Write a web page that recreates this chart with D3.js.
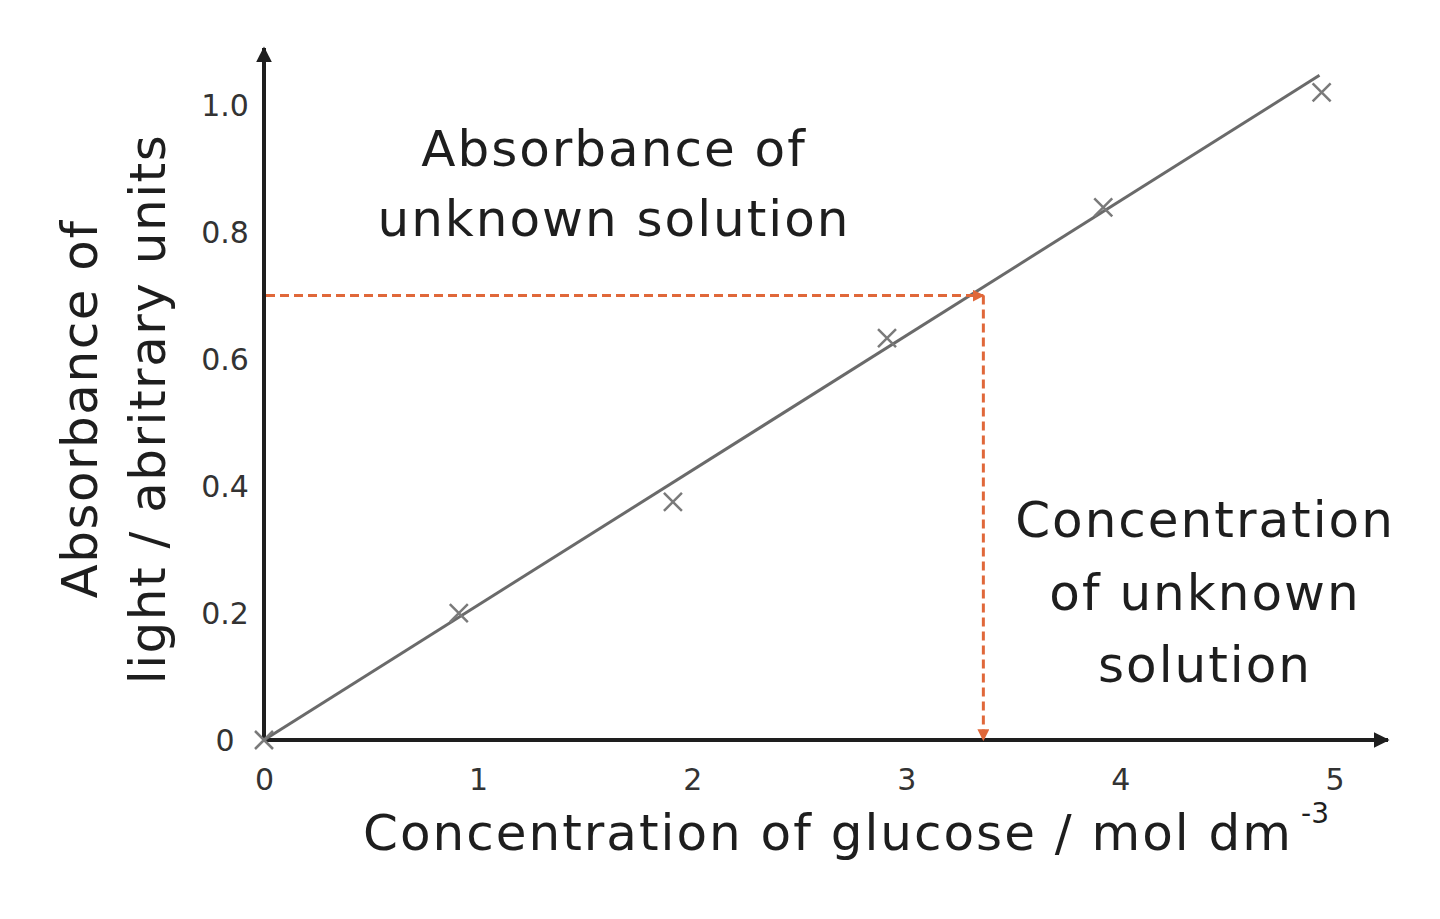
<!DOCTYPE html>
<html>
<head>
<meta charset="utf-8">
<script src="https://cdn.jsdelivr.net/npm/d3@7"></script>
<style>
  body { margin: 0; background: #fff; }
  text { font-family: "DejaVu Sans", sans-serif; fill: #1e1e1e; }
</style>
</head>
<body>
<svg id="chart"></svg>
<script>
// calibration readings (concentration, absorbance)
const concentration = [0, 0.91, 1.91, 2.91, 3.92, 4.94];
const absorbance = [0, 0.2, 0.375, 0.633, 0.839, 1.02];
// line of best fit, drawn by hand in the original
const fitLine = [[0, 0], [4.93, 1.047]];
// reading for the unknown solution
const unknown = { conc: 3.36, abs: 0.70 };

const xTicks = [0, 1, 2, 3, 4, 5];
const yTicks = [0, 0.2, 0.4, 0.6, 0.8, 1.0];
const yTickLabels = ["0", "0.2", "0.4", "0.6", "0.8", "1.0"];

const width = 1440, height = 919;
const svg = d3.select("#chart").attr("width", width).attr("height", height);

const x = d3.scaleLinear().domain([0, 5.25]).range([264, 1388]);
const y = d3.scaleLinear().domain([0, 1.09]).range([740, 48]);

const defs = svg.append("defs");
const arrow = (id, color, size) => defs.append("marker")
  .attr("id", id)
  .attr("viewBox", "0 0 10 10")
  .attr("refX", 9).attr("refY", 5)
  .attr("markerWidth", size).attr("markerHeight", size)
  .attr("markerUnits", "userSpaceOnUse")
  .attr("orient", "auto")
  .append("path").attr("d", "M0,0 L10,5 L0,10 Z").attr("fill", color);
arrow("axisArrow", "#1e1e1e", 16);
arrow("orangeArrow", "#e0683a", 12);

// tick labels via d3 axes, no tick lines
const xAxis = svg.append("g")
  .attr("transform", `translate(0, ${y(0)})`)
  .call(d3.axisBottom(x).tickValues(xTicks).tickSize(0).tickFormat(d3.format("d")));
xAxis.select(".domain").remove();
xAxis.selectAll("text")
  .attr("y", 50).attr("dy", 0)
  .style("font-size", "30px").style("fill", "#333");

const yAxis = svg.append("g")
  .attr("transform", `translate(${x(0)}, 0)`)
  .call(d3.axisLeft(y).tickValues(yTicks).tickSize(0).tickFormat((d, i) => yTickLabels[i]));
yAxis.select(".domain").remove();
yAxis.selectAll("text")
  .attr("x", -39).attr("dy", "0.36em")
  .attr("text-anchor", "middle")
  .style("font-size", "30px").style("fill", "#333");

// axis lines with arrow heads
svg.append("line")
  .attr("x1", x(0)).attr("y1", y(0))
  .attr("x2", x(5.25)).attr("y2", y(0))
  .attr("stroke", "#1e1e1e").attr("stroke-width", 4)
  .attr("marker-end", "url(#axisArrow)");
svg.append("line")
  .attr("x1", x(0)).attr("y1", y(0))
  .attr("x2", x(0)).attr("y2", y(1.09))
  .attr("stroke", "#1e1e1e").attr("stroke-width", 4)
  .attr("marker-end", "url(#axisArrow)");

// best fit line
const line = d3.line().x(d => x(d[0])).y(d => y(d[1]));
svg.append("path")
  .datum(fitLine)
  .attr("d", line)
  .attr("fill", "none")
  .attr("stroke", "#6a6a6a")
  .attr("stroke-width", 3);

// cross markers
const pts = concentration.map((c, i) => [c, absorbance[i]]);
const s = 9;
svg.append("g").selectAll("path")
  .data(pts)
  .join("path")
  .attr("d", d => {
    const cx = x(d[0]), cy = y(d[1]);
    return `M${cx - s},${cy - s}L${cx + s},${cy + s}M${cx - s},${cy + s}L${cx + s},${cy - s}`;
  })
  .attr("stroke", "#7a7a7a")
  .attr("stroke-width", 2.5)
  .attr("fill", "none");

// dashed read-off lines
svg.append("line")
  .attr("x1", x(0) + 2).attr("y1", y(unknown.abs))
  .attr("x2", x(unknown.conc)).attr("y2", y(unknown.abs))
  .attr("stroke", "#e0683a").attr("stroke-width", 3)
  .attr("stroke-dasharray", "9 5")
  .attr("marker-end", "url(#orangeArrow)");
svg.append("line")
  .attr("x1", x(unknown.conc)).attr("y1", y(unknown.abs))
  .attr("x2", x(unknown.conc)).attr("y2", y(0))
  .attr("stroke", "#e0683a").attr("stroke-width", 3)
  .attr("stroke-dasharray", "9 5")
  .attr("marker-end", "url(#orangeArrow)");

// annotations
const bigFont = "50px";
const note = (cx, baselines, lines) => {
  const t = svg.append("text").attr("text-anchor", "middle")
    .style("font-size", bigFont).style("letter-spacing", "2px");
  lines.forEach((l, i) => t.append("tspan").attr("x", cx + 1).attr("y", baselines[i]).text(l));
};
note(613, [166, 236], ["Absorbance of", "unknown solution"]);
note(1204, [537, 610, 682], ["Concentration", "of unknown", "solution"]);

// axis titles
const xt = svg.append("text")
  .attr("x", 363).attr("y", 850)
  .style("font-size", bigFont).style("letter-spacing", "2px");
xt.append("tspan").text("Concentration of glucose / mol dm");
xt.append("tspan").attr("dx", 8).attr("dy", -27)
  .style("font-size", "28px").style("letter-spacing", "0px").text("-3");

const yt = svg.append("text")
  .attr("transform", "rotate(-90)")
  .attr("text-anchor", "middle")
  .style("font-size", bigFont).style("letter-spacing", "1.5px");
yt.append("tspan").attr("x", -409).attr("y", 97).text("Absorbance of");
yt.append("tspan").attr("x", -409).attr("y", 165).text("light / abritrary units");
</script>
</body>
</html>
